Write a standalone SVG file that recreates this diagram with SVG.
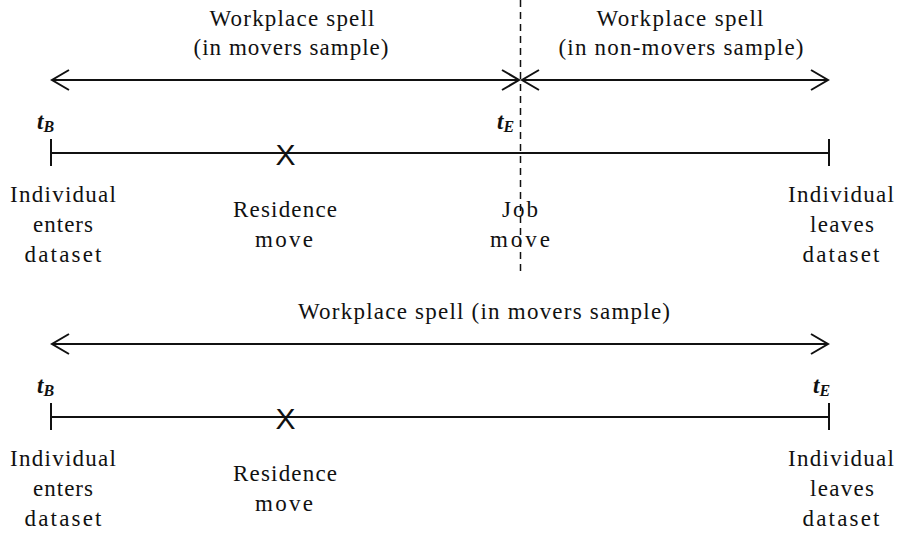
<svg xmlns="http://www.w3.org/2000/svg" width="900" height="536" viewBox="0 0 900 536">
<style>
.lbl{font-family:"Liberation Serif","DejaVu Serif","Times New Roman",Times,serif;font-size:23px;fill:#111;text-anchor:middle}
.tt{font-family:"Liberation Serif","DejaVu Serif","Times New Roman",Times,serif;font-size:23px;font-weight:bold;font-style:italic;fill:#111}
.sub{font-size:16px}
.mk{font-family:"Liberation Sans","DejaVu Sans",Arial,sans-serif;font-size:30px;fill:#111;text-anchor:middle}
.ln{stroke:#111;stroke-width:2;fill:none}
.dash{stroke:#111;stroke-width:1.5;stroke-dasharray:7 5;fill:none}
</style>
<defs>
<marker id="ah" markerUnits="userSpaceOnUse" markerWidth="24" markerHeight="24" viewBox="-20 -12 24 24" refX="0" refY="0" orient="auto-start-reverse">
<path d="M-17,-10 L0,0 L-17,10" fill="none" stroke="#111" stroke-width="2"/>
</marker>
</defs>
<rect width="900" height="536" fill="#fff"/>

<!-- top panel -->
<g id="title-movers">
<text class="lbl" x="292" y="26" textLength="165" lengthAdjust="spacing">Workplace spell</text>
<text class="lbl" x="291" y="55" textLength="195" lengthAdjust="spacing">(in movers sample)</text>
</g>
<g id="title-nonmovers">
<text class="lbl" x="680" y="26" textLength="167" lengthAdjust="spacing">Workplace spell</text>
<text class="lbl" x="681" y="55" textLength="245" lengthAdjust="spacing">(in non-movers sample)</text>
</g>
<g id="tB-top"><text class="tt" x="37" y="129">t<tspan class="sub" dy="3">B</tspan></text></g>
<g id="tE-top"><text class="tt" x="497" y="129">t<tspan class="sub" dy="3">E</tspan></text></g>
<g id="enter-top">
<text class="lbl" x="63" y="202" textLength="106" lengthAdjust="spacing">Individual</text>
<text class="lbl" x="63" y="232" textLength="60" lengthAdjust="spacing">enters</text>
<text class="lbl" x="63" y="262" textLength="77" lengthAdjust="spacing">dataset</text>
</g>
<g id="residence-top">
<text class="mk" x="285.5" y="165">X</text>
<text class="lbl" x="285" y="217" textLength="104" lengthAdjust="spacing">Residence</text>
<text class="lbl" x="284" y="247" textLength="58" lengthAdjust="spacing">move</text>
</g>
<g id="job-top">
<text class="lbl" x="520" y="217" textLength="36" lengthAdjust="spacing">Job</text>
<text class="lbl" x="520" y="247" textLength="60" lengthAdjust="spacing">move</text>
</g>
<g id="leave-top">
<text class="lbl" x="841" y="202" textLength="106" lengthAdjust="spacing">Individual</text>
<text class="lbl" x="842" y="232" textLength="64" lengthAdjust="spacing">leaves</text>
<text class="lbl" x="841" y="262" textLength="77" lengthAdjust="spacing">dataset</text>
</g>

<!-- bottom panel -->
<g id="title-bottom">
<text class="lbl" x="484" y="319" textLength="372" lengthAdjust="spacing">Workplace spell (in movers sample)</text>
</g>
<g id="tB-bottom"><text class="tt" x="37" y="393">t<tspan class="sub" dy="3">B</tspan></text></g>
<g id="tE-bottom"><text class="tt" x="813" y="393">t<tspan class="sub" dy="3">E</tspan></text></g>
<g id="enter-bottom">
<text class="lbl" x="63" y="466" textLength="106" lengthAdjust="spacing">Individual</text>
<text class="lbl" x="63" y="496" textLength="60" lengthAdjust="spacing">enters</text>
<text class="lbl" x="63" y="526" textLength="77" lengthAdjust="spacing">dataset</text>
</g>
<g id="residence-bottom">
<text class="mk" x="285.5" y="429">X</text>
<text class="lbl" x="285" y="481" textLength="104" lengthAdjust="spacing">Residence</text>
<text class="lbl" x="284" y="511" textLength="58" lengthAdjust="spacing">move</text>
</g>
<g id="leave-bottom">
<text class="lbl" x="841" y="466" textLength="106" lengthAdjust="spacing">Individual</text>
<text class="lbl" x="842" y="496" textLength="64" lengthAdjust="spacing">leaves</text>
<text class="lbl" x="841" y="526" textLength="77" lengthAdjust="spacing">dataset</text>
</g>

<g id="connectors">
<line class="ln" x1="52" y1="80" x2="519" y2="80" marker-start="url(#ah)" marker-end="url(#ah)"/>
<line class="ln" x1="522" y1="80" x2="828" y2="80" marker-start="url(#ah)" marker-end="url(#ah)"/>
<line class="ln" x1="51" y1="153" x2="829" y2="153"/>
<line class="ln" x1="51" y1="139" x2="51" y2="166"/>
<line class="ln" x1="829" y1="139" x2="829" y2="166"/>
<line class="dash" x1="520.5" y1="0" x2="520.5" y2="272"/>
<line class="ln" x1="52" y1="344" x2="828" y2="344" marker-start="url(#ah)" marker-end="url(#ah)"/>
<line class="ln" x1="51" y1="417" x2="829" y2="417"/>
<line class="ln" x1="51" y1="403" x2="51" y2="430"/>
<line class="ln" x1="829" y1="403" x2="829" y2="430"/>
</g>
</svg>
